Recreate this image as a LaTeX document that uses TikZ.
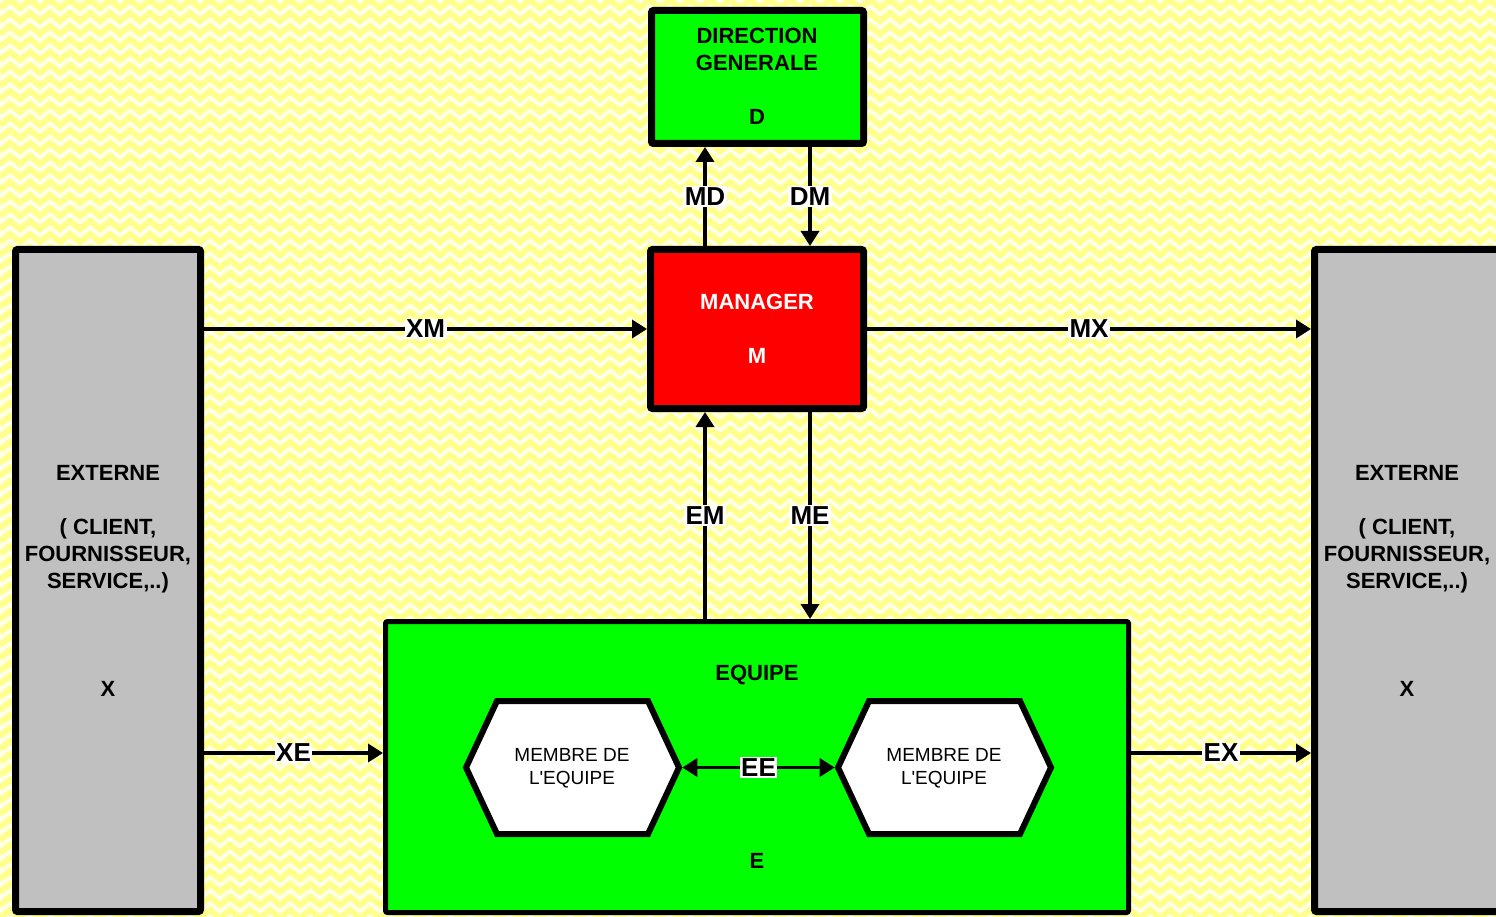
\documentclass[tikz,border=0pt]{standalone}
\usepackage{fontspec}
\setmainfont{Liberation Sans}[Ligatures=TeXOff]
\usetikzlibrary{arrows.meta,shapes.symbols}
\definecolor{bgyel}{HTML}{FFFFEA}
\definecolor{stripe}{HTML}{FFFF8C}
\definecolor{vgreen}{HTML}{00FF00}
\definecolor{vred}{HTML}{FF0000}
\definecolor{vgray}{HTML}{C0C0C0}
\begin{document}
\begin{tikzpicture}[x=1pt,y=-1pt,
 box/.style={draw=black, line width=7pt, rounded corners=2pt, inner sep=0pt},
 btxt/.style={font=\fontsize{22}{27}\selectfont\bfseries, anchor=base, inner sep=0pt},
 mtxt/.style={font=\fontsize{19}{23}\selectfont, anchor=base, inner sep=0pt},
 lab/.style={font=\fontsize{26}{30}\selectfont\bfseries, fill=white, inner sep=1.5pt},
 conn/.style={line width=3.5pt, -{Triangle[length=15pt,width=18pt]}},
 dconn/.style={line width=3.5pt, {Triangle[length=15pt,width=18pt]}-{Triangle[length=15pt,width=18pt]}},
 hex/.style={shape=signal, signal to=east and west, signal pointer angle=130, draw=black, line width=6pt, fill=white, minimum width=213pt, minimum height=133pt, inner sep=0pt}]
\useasboundingbox (0,0) rectangle (1496,917);
\clip (0,0) rectangle (1496,917);
% background
\fill[bgyel] (0,0) rectangle (1496,917);
\foreach \r in {-1,...,71} {
  \draw[stripe, line width=6pt] plot[domain=0:1500, samples=151] (\x, {13*\r + 0.8*abs(mod(\x,20)-10)});
}
% boxes
\node[box, fill=vgreen, minimum width=212pt, minimum height=133pt] (D) at (757.5,77) {};
\node[box, fill=vred, minimum width=213pt, minimum height=159pt] (M) at (757,329) {};
\node[box, fill=vgray, minimum width=185pt, minimum height=662pt] (XL) at (108,580.5) {};
\node[box, fill=vgray, minimum width=185pt, minimum height=662pt] (XR) at (1407,580.5) {};
\node[box, line width=5pt, fill=vgreen, minimum width=743pt, minimum height=291pt] (E) at (757,767) {};
\node[hex] (H1) at (572.5,767.5) {};
\node[hex] (H2) at (944.5,767.5) {};
% texts
\node[btxt] at (757,44) {DIRECTION};
\node[btxt] at (757,71) {GENERALE};
\node[btxt] at (757,125) {D};
\node[btxt, text=white] at (757,309) {MANAGER};
\node[btxt, text=white] at (757,363) {M};
\foreach \xx in {108,1407} {
  \node[btxt] at (\xx,480) {EXTERNE};
  \node[btxt] at (\xx,534) {( CLIENT,};
  \node[btxt] at (\xx,561) {FOURNISSEUR,};
  \node[btxt] at (\xx,588) {SERVICE,..)};
  \node[btxt] at (\xx,696) {X};
}
\node[btxt] at (757,680) {EQUIPE};
\node[btxt] at (757,868) {E};
\foreach \xx in {572,944} {
  \node[mtxt] at (\xx,761) {MEMBRE DE};
  \node[mtxt] at (\xx,784) {L'EQUIPE};
}
% connectors
\coordinate (cl) at (705,0);
\coordinate (cr) at (810,0);
\coordinate (xe) at (0,753);
\draw[conn] (M.north -| cl) -- node[lab] {MD} (D.south -| cl);
\draw[conn] (D.south -| cr) -- node[lab] {DM} (M.north -| cr);
\draw[conn] (E.north -| cl) -- node[lab] {EM} (M.south -| cl);
\draw[conn] (M.south -| cr) -- node[lab] {ME} (E.north -| cr);
\draw[conn] (XL.east |- M.west) -- node[lab] {XM} (M.west);
\draw[conn] (M.east) -- node[lab] {MX} (XR.west |- M.east);
\draw[conn] (XL.east |- xe) -- node[lab] {XE} (E.west |- xe);
\draw[conn] (E.east |- xe) -- node[lab] {EX} (XR.west |- xe);
\draw[dconn] (H1.east) -- node[lab] {EE} (H2.west);
\end{tikzpicture}
\end{document}
